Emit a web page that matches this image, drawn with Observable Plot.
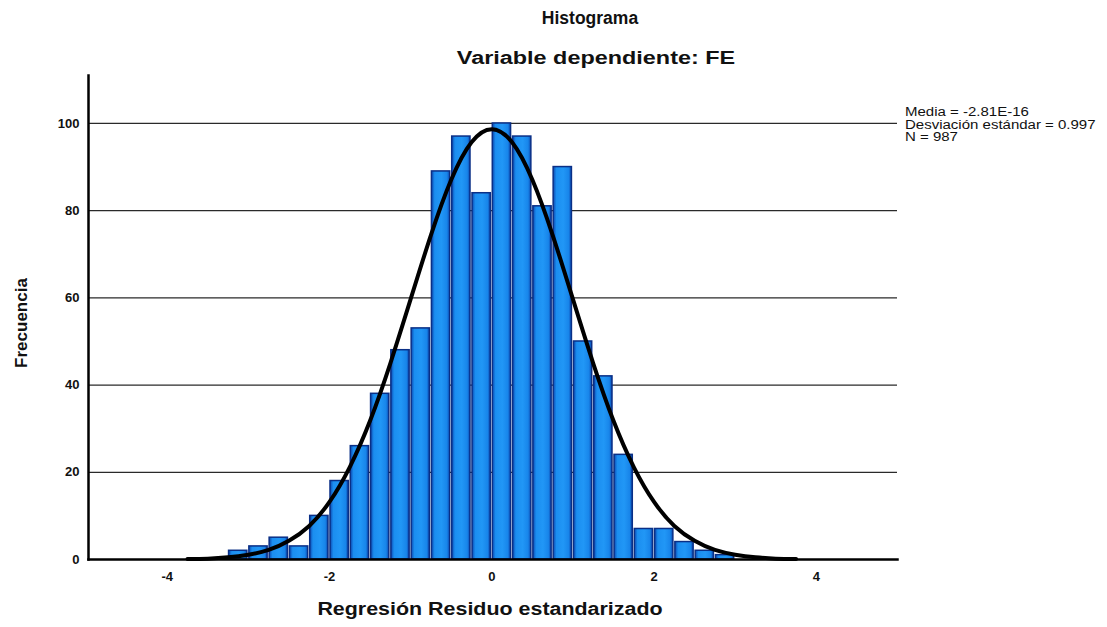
<!DOCTYPE html>
<html>
<head>
<meta charset="utf-8">
<script src="https://cdn.jsdelivr.net/npm/d3@7"></script>
<script src="https://cdn.jsdelivr.net/npm/@observablehq/plot@0.6"></script>
<style>
  body { margin: 0; background: #fff; }
  #wrap { position: relative; width: 1107px; height: 627px; font-family: "Liberation Sans", Arial, sans-serif; color: #111; overflow: hidden; }
  #wrap svg { position: absolute; left: 0; top: 0; }
  .lbl { position: absolute; white-space: nowrap; }
  .title { font-weight: bold; line-height: 20px; }
  .legend { font-size: 12.5px; line-height: 12.5px; transform-origin: 0 0; transform: scaleX(1.2); }
</style>
</head>
<body>
<div id="wrap">
  <div class="lbl title" style="left:590px; top:8px; font-size:17.5px; transform: translateX(-50%);">Histograma</div>
  <div class="lbl title" style="left:596px; top:48px; font-size:18px; transform: translateX(-50%) scaleX(1.3);">Variable dependiente: FE</div>
  <div class="lbl title" style="left:490px; top:599px; font-size:18px; transform: translateX(-50%) scaleX(1.19);">Regresión Residuo estandarizado</div>
  <div class="lbl" style="left:22px; top:323px; font-size:17px; font-weight:bold; transform: translate(-50%,-50%) rotate(-90deg);">Frecuencia</div>
  <div class="lbl legend" style="left:905px; top:106px;">Media = -2.81E-16<br>Desviación estándar = 0.997<br>N = 987</div>
</div>
<script>
// Histogram bins (left edge, width 0.25) and frequencies
const binStarts = [-3.25, -3.0, -2.75, -2.5, -2.25, -2.0, -1.75, -1.5, -1.25, -1.0, -0.75, -0.5, -0.25,
                   0, 0.25, 0.5, 0.75, 1.0, 1.25, 1.5, 1.75, 2.0, 2.25, 2.5, 2.75];
const binWidth = 0.25;
const frequencies = [2, 3, 5, 3, 10, 18, 26, 38, 48, 53, 89, 97, 84,
                     100, 97, 81, 90, 50, 42, 24, 7, 7, 4, 2, 1];

// Normal curve points
const curveX = [-3.75, -3.5, -3.25, -3.0, -2.75, -2.5, -2.25, -2.0, -1.75, -1.5, -1.25, -1.0, -0.75, -0.5, -0.25,
                0, 0.25, 0.5, 0.75, 1.0, 1.25, 1.5, 1.75, 2.0, 2.25, 2.5, 2.75, 3.0, 3.25, 3.5, 3.75];
const curveY = [0.1, 0.2, 0.5, 1.1, 2.2, 4.3, 7.7, 13.2, 21.2, 31.8, 45.0, 59.7, 74.4, 87.1, 95.7,
                98.7, 95.7, 87.1, 74.4, 59.7, 45.0, 31.8, 21.2, 13.2, 7.7, 4.3, 2.2, 1.1, 0.5, 0.2, 0.1];

const xTicks = [-4, -2, 0, 2, 4];
const yTicks = [0, 20, 40, 60, 80, 100];

const bins = binStarts.map((x, i) => ({x1: x, x2: x + binWidth, y: frequencies[i]}));
const curve = curveX.map((x, i) => ({x, y: curveY[i]}));

const chart = Plot.plot({
  width: 1107,
  height: 627,
  marginLeft: 88,
  marginRight: 210,
  marginTop: 75,
  marginBottom: 68,
  style: {fontFamily: "'Liberation Sans', Arial, sans-serif", color: "#111", background: "transparent"},
  x: {domain: [-4.97, 5], ticks: xTicks},
  y: {domain: [0, 111], ticks: yTicks},
  marks: [
    Plot.gridY(yTicks.filter(d => d > 0), {stroke: "#2a2a2a", strokeOpacity: 1, strokeWidth: 1.3}),
    Plot.rectY(bins, {x1: "x1", x2: "x2", y: "y", fill: "url(#barGrad)", stroke: "#0a2f86", strokeWidth: 1.5, insetLeft: 1, insetRight: 1}),
    Plot.line(curve, {x: "x", y: "y", stroke: "#000", strokeWidth: 4, curve: "natural"}),
    Plot.frame({anchor: "left", stroke: "#000", strokeWidth: 2.5}),
    Plot.frame({anchor: "bottom", stroke: "#000", strokeWidth: 2.5}),
    Plot.axisY({ticks: yTicks, tickSize: 0, tickPadding: 9, fontSize: 13, fontWeight: "bold", tickFormat: d => String(d), label: null}),
    Plot.axisX({ticks: xTicks, tickSize: 0, tickPadding: 12, fontSize: 13, fontWeight: "bold", tickFormat: d => String(d), label: null})
  ]
});

chart.insertAdjacentHTML("afterbegin",
  `<defs><linearGradient id="barGrad" x1="0" y1="0" x2="1" y2="0">
     <stop offset="0" stop-color="#0b48b0"/>
     <stop offset="0.18" stop-color="#1b8ef0"/>
     <stop offset="0.55" stop-color="#2197f6"/>
     <stop offset="0.85" stop-color="#1885ea"/>
     <stop offset="1" stop-color="#0b48b0"/>
   </linearGradient></defs>`);

document.getElementById("wrap").prepend(chart);
</script>
</body>
</html>
